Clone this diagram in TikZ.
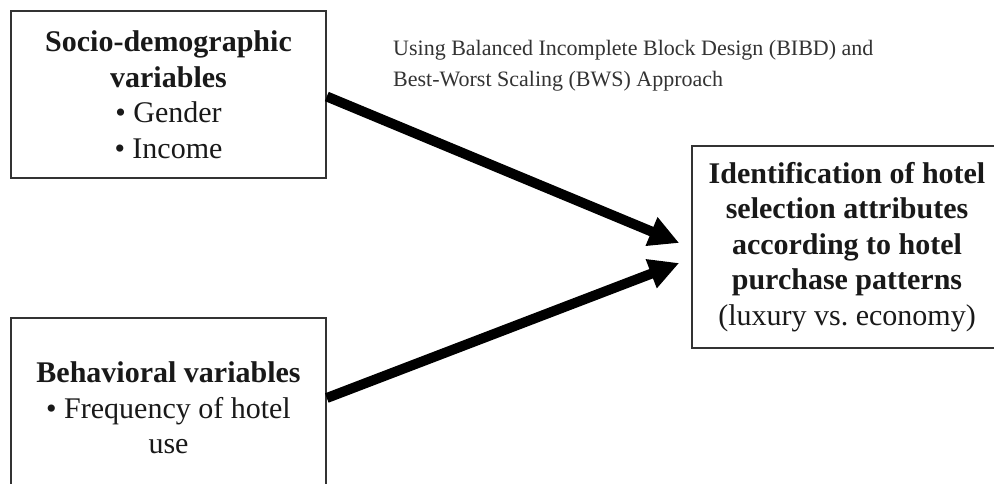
\documentclass[tikz,border=0pt]{standalone}
\usepackage{fontspec}
\setmainfont{Liberation Serif}
\usetikzlibrary{arrows.meta}
\frenchspacing
\tikzset{
  boxnode/.style={draw=black!80, line width=1.6pt, rectangle, inner sep=0pt, align=center,
    font=\fontsize{30}{35.5}\selectfont, text=black!90},
  bigarrow/.style={line width=10pt, -{Triangle[length=30pt,width=29pt]}, black}
}
\begin{document}
\begin{tikzpicture}[x=1pt,y=-1pt]
\useasboundingbox (0,0) rectangle (994,484);
\clip (0,0) rectangle (994,484);
\fill[white] (0,0) rectangle (994,484);
\node[boxnode, minimum width=315pt, minimum height=167pt] (box1) at (168.5,94.5)
  {\textbf{Socio-demographic}\\\textbf{variables}\\• Gender\\• Income};
\node[boxnode, minimum width=315pt, minimum height=180pt] (box2) at (168.5,408)
  {\textbf{Behavioral variables}\\• Frequency of hotel\\use};
\node[boxnode, minimum width=310pt, minimum height=202pt] (box3) at (847,247)
  {\textbf{Identification of hotel}\\\textbf{selection attributes}\\\textbf{according to hotel}\\\textbf{purchase patterns}\\(luxury vs. economy)};
\node[anchor=west, align=left, inner sep=0pt, font=\fontsize{22}{31}\selectfont, text=black!80] (title) at (393,66)
  {Using Balanced Incomplete Block Design (BIBD) and\\Best-Worst Scaling (BWS) Approach};
\draw[bigarrow] ([yshift=-2pt]box1.east) -- ([xshift=-12pt,yshift=4pt]box3.west);
\draw[bigarrow] ([yshift=10pt]box2.east) -- ([xshift=-12pt,yshift=-16pt]box3.west);
\end{tikzpicture}
\end{document}
